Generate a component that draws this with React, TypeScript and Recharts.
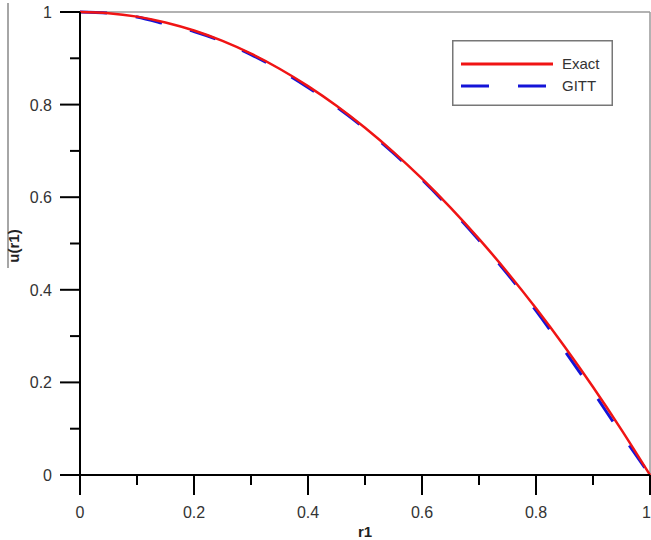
import React from 'react';
import {
  LineChart,
  Line,
  XAxis,
  YAxis,
  ReferenceLine,
  Legend,
} from 'recharts';

// values
const r1 = [0, 0.05, 0.1, 0.15, 0.2, 0.25, 0.3, 0.35, 0.4, 0.45, 0.5, 0.55, 0.6, 0.65, 0.7, 0.75, 0.8, 0.85, 0.9, 0.95, 1];
const exact = [1, 0.9975, 0.99, 0.9775, 0.96, 0.9375, 0.91, 0.8775, 0.84, 0.7975, 0.75, 0.6975, 0.64, 0.5775, 0.51, 0.4375, 0.36, 0.2775, 0.19, 0.0975, 0];
const gitt = [1, 0.9975, 0.989, 0.974, 0.958, 0.936, 0.908, 0.875, 0.837, 0.795, 0.748, 0.695, 0.638, 0.575, 0.507, 0.434, 0.355, 0.269, 0.18, 0.088, 0];
const tickValues = [0, 0.1, 0.2, 0.3, 0.4, 0.5, 0.6, 0.7, 0.8, 0.9, 1];

const data = r1.map((r, i) => ({ r, exact: exact[i], gitt: gitt[i] }));

const FONT = '"Liberation Sans", Arial, sans-serif';
const RED = '#f01414';
const BLUE = '#1414d8';

const isMajor = (v: number) => Math.round(v * 10) % 2 === 0;
const fmt = (v: number) => (v === 0 ? '0' : v === 1 ? '1' : String(Math.round(v * 10) / 10));

const XTick = (props: any) => {
  const { x, y, payload } = props;
  const major = isMajor(payload.value);
  const last = payload.value === 1;
  return (
    <g>
      <line x1={x} x2={x} y1={y} y2={y + (major ? 20 : 10)} stroke="#000" strokeWidth={2} />
      {major && (
        <text
          x={last ? x + 1 : x}
          y={y + 43}
          textAnchor={last ? 'end' : 'middle'}
          fontSize={16}
          fontFamily={FONT}
          fill="#333"
        >
          {fmt(payload.value)}
        </text>
      )}
    </g>
  );
};

const YTick = (props: any) => {
  const { x, y, payload } = props;
  const major = isMajor(payload.value);
  return (
    <g>
      <line x1={x - (major ? 20 : 10)} x2={x} y1={y} y2={y} stroke="#000" strokeWidth={2} />
      {major && (
        <text x={x - 28} y={y + 6} textAnchor="end" fontSize={16} fontFamily={FONT} fill="#333">
          {fmt(payload.value)}
        </text>
      )}
    </g>
  );
};

const YLabel = () => (
  <g>
    <line x1={8} x2={8} y1={3} y2={268} stroke="#888" strokeWidth={1.5} />
    <text
      x={13}
      y={246}
      transform="rotate(-90 13 246)"
      textAnchor="middle"
      dominantBaseline="central"
      fontSize={15}
      fontWeight="bold"
      fontFamily={FONT}
      fill="#222"
    >
      u(r1)
    </text>
  </g>
);

const XLabel = () => (
  <text x={365} y={537} textAnchor="middle" fontSize={15} fontWeight="bold" fontFamily={FONT} fill="#222">
    r1
  </text>
);

const LegendBox = () => (
  <svg width={161} height={66} style={{ display: 'block' }}>
    <rect x={0.75} y={0.75} width={159.5} height={64.5} fill="#fff" stroke="#777" strokeWidth={1.5} />
    <line x1={9} x2={101} y1={24} y2={24} stroke={RED} strokeWidth={3} />
    <text x={110} y={29} fontSize={15} fontFamily={FONT} fill="#333">Exact</text>
    <line x1={9} x2={95} y1={46} y2={46} stroke={BLUE} strokeWidth={3} strokeDasharray="28 29" />
    <text x={110} y={51} fontSize={15} fontFamily={FONT} fill="#333">GITT</text>
  </svg>
);

export default function App() {
  return (
    <div style={{ position: 'absolute', left: 0, top: 0, background: '#fff' }}>
      <LineChart width={651} height={540} data={data} margin={{ top: 12, right: 1, left: 0, bottom: 0 }}>
        <XAxis
          dataKey="r"
          type="number"
          domain={[0, 1]}
          ticks={tickValues}
          interval={0}
          height={65}
          tickSize={0}
          tickMargin={0}
          tickLine={false}
          tick={<XTick />}
          axisLine={{ stroke: '#000', strokeWidth: 2 }}
          label={<XLabel />}
        />
        <YAxis
          type="number"
          domain={[0, 1]}
          ticks={tickValues}
          interval={0}
          width={80}
          tickSize={0}
          tickMargin={0}
          tickLine={false}
          tick={<YTick />}
          axisLine={{ stroke: '#000', strokeWidth: 2 }}
          label={<YLabel />}
        />
        <ReferenceLine y={1} stroke="#999" strokeWidth={1.5} />
        <ReferenceLine x={1} stroke="#999" strokeWidth={1.5} />
        <Legend
          layout="horizontal"
          verticalAlign="middle"
          content={<LegendBox />}
          wrapperStyle={{ left: 452, top: 40, width: 161, height: 66 }}
        />
        <Line
          type="monotone"
          dataKey="gitt"
          stroke={BLUE}
          strokeWidth={3}
          strokeDasharray="27 29"
          dot={false}
          isAnimationActive={false}
        />
        <Line
          type="monotone"
          dataKey="exact"
          stroke={RED}
          strokeWidth={2.5}
          dot={false}
          isAnimationActive={false}
        />
      </LineChart>
    </div>
  );
}
